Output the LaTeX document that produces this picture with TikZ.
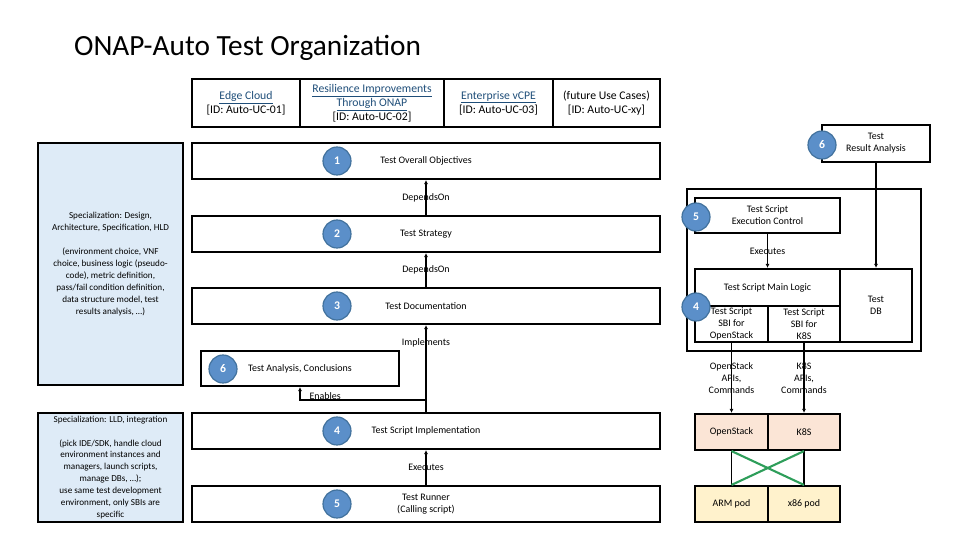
\documentclass[tikz,border=0pt]{standalone}
\usepackage{fontspec}
\setmainfont{Carlito}
\usetikzlibrary{fit, arrows.meta}
\definecolor{panel}{RGB}{222, 235, 247}
\definecolor{numfill}{RGB}{91, 143, 201}
\definecolor{numedge}{RGB}{65, 113, 156}
\definecolor{link}{RGB}{31, 78, 121}
\definecolor{platform}{RGB}{251, 229, 214}
\definecolor{pod}{RGB}{255, 242, 204}
\definecolor{cross}{RGB}{46, 158, 90}

\begin{document}
\begin{tikzpicture}[x=0.03cm, y=-0.03cm,
    frame/.style={draw, line width=1.8pt, inner sep=0pt},
    num/.style={circle, fill=numfill, draw=numedge, line width=1pt, minimum size=0.84cm, inner sep=0pt, text=white, font=\bfseries\fontsize{10}{10}\selectfont},
    flow/.style={line width=1.4pt, -{Latex[length=3.5pt, width=3.5pt]}},
    tag/.style={font=\fontsize{8.5}{10.2}\selectfont, align=center, inner sep=1pt},
    usecase/.style={font=\fontsize{10}{12}\selectfont, align=center, inner sep=0pt},
    note/.style={font=\fontsize{7.8}{10.2}\selectfont, align=center, inner sep=0pt}]
  \useasboundingbox (0,0) rectangle (960,540);
  \node[anchor=west, font=\fontsize{25}{30}\selectfont] (title) at (70,48) {ONAP-Auto Test Organization};

  % use cases
  \node[frame, fit={(192,79) (300,127)}] (uc1) {};
  \node[frame, fit={(300,79) (444,127)}] (uc2) {};
  \node[frame, fit={(444,79) (553,127)}] (uc3) {};
  \node[frame, fit={(553,79) (660,127)}] (uc4) {};
  \node[usecase] (uc1t) at (uc1) {\textcolor{link}{\underline{Edge Cloud}}\\{}[ID: Auto-UC-01]};
  \node[usecase] (uc2t) at (uc2) {\textcolor{link}{\underline{Resilience Improvements}}\\\textcolor{link}{\underline{Through ONAP}}\\{}[ID: Auto-UC-02]};
  \node[usecase] (uc3t) at (uc3) {\textcolor{link}{\underline{Enterprise vCPE}}\\{}[ID: Auto-UC-03]};
  \node[usecase] (uc4t) at (uc4) {(future Use Cases)\\{}[ID: Auto-UC-xy]};

  % specialization panels
  \node[frame, fill=panel, fit={(38,143) (183,385)}] (design) {};
  \node[note] (designt) at (design)
    {Specialization: Design,\\Architecture, Specification, HLD\\[10.2pt](environment choice, VNF\\choice, business logic (pseudo-\\code), metric definition,\\pass/fail condition definition,\\data structure model, test\\results analysis, …)};
  \node[frame, fill=panel, fit={(38,413) (183,522)}] (build) {};
  \node[note] (buildt) at (build)
    {Specialization: LLD, integration\\[10.2pt](pick IDE/SDK, handle cloud\\environment instances and\\managers, launch scripts,\\manage DBs, …);\\use same test development\\environment, only SBIs are\\specific};

  % test stages
  \foreach \n/\top/\txt in {1/143/Test Overall Objectives, 2/216/Test Strategy,
      3/288/Test Documentation, 4/413/Test Script Implementation,
      5/486/{Test Runner\\(Calling script)}} {
    \node[frame, fit={(192,\top) (660,\top+36)}] (row\n) {};
    \node[tag] (l\n) at (row\n) {\txt};
    \node[num] (c\n) at (337,\top+18) {\n};
  }
  \node[frame, fit={(201,351) (399,386)}] (analysis) {};
  \node[tag] (l6) at (analysis) {Test Analysis, Conclusions};
  \node[num] (c6) at (223,369) {6};

  \draw[flow] (row2.north) -- (row1.south) node[tag, midway] {DependsOn};
  \draw[flow] (row3.north) -- (row2.south) node[tag, midway] {DependsOn};
  \draw[flow] (row4.north) -- (row3.south) node[tag, pos=0.79] {Implements};
  \draw[flow] (row5.north) -- (row4.south) node[tag, midway] {Executes};
  \coordinate (split) at (426,400);
  \draw[flow] (split) -| (analysis.south) node[tag, pos=0.4, above=-1pt] {Enables};

  % test harness
  \node[frame, fit={(822,125) (930,162)}] (result) {};
  \node[tag] (resultt) at (result) {Test\\Result Analysis};
  \node[num] (r6) at (822,145) {6};
  \node[frame, fit={(687,189) (921,351)}] (harness) {};
  \node[frame, fit={(695,198) (840,233)}] (control) {};
  \node[tag] (controlt) at (control) {Test Script\\Execution Control};
  \node[num] (r5) at (696,217) {5};
  \node[frame, fit={(695,269) (840,306)}] (mainlogic) {};
  \node[tag] (mainlogict) at (mainlogic) {Test Script Main Logic};
  \node[frame, fit={(840,269) (912,342)}] (testdb) {};
  \node[tag] (testdbt) at (testdb) {Test\\DB};
  \node[frame, fit={(695,306) (768,342)}] (sbios) {};
  \node[tag] (sbiost) at (sbios) {Test Script\\SBI for\\OpenStack};
  \node[frame, fit={(768,306) (840,342)}] (sbik8s) {};
  \node[tag] (sbik8st) at (sbik8s) {Test Script\\SBI for\\K8S};
  \node[num] (r4) at (696,307) {4};

  \draw[flow] (control.south) -- (mainlogic.north) node[tag, midway] {Executes};
  \draw[flow] (result.south) -- (testdb.north);

  % platforms and pods
  \node[frame, fill=platform, fit={(695,414) (768,450)}] (openstack) {};
  \node[tag] (openstackt) at (openstack) {OpenStack};
  \node[frame, fill=platform, fit={(768,414) (840,450)}] (k8s) {};
  \node[tag] (k8st) at (k8s) {K8S};
  \node[frame, fill=pod, fit={(695,486) (768,522)}] (arm) {};
  \node[tag] (armt) at (arm) {ARM pod};
  \node[frame, fill=pod, fit={(768,486) (840,522)}] (x86) {};
  \node[tag] (x86t) at (x86) {x86 pod};

  \draw[flow] (sbios.south) -- (openstack.north) node[tag, midway] {OpenStack\\APIs,\\Commands};
  \draw[flow] (sbik8s.south) -- (k8s.north) node[tag, midway] {K8S\\APIs,\\Commands};
  \draw[line width=1.4pt] (openstack.south) -- (arm.north);
  \draw[line width=1.4pt] (k8s.south) -- (x86.north);
  \draw[cross, line width=1.8pt] (openstack.south) -- (x86.north);
  \draw[cross, line width=1.8pt] (k8s.south) -- (arm.north);
\end{tikzpicture}
\end{document}
